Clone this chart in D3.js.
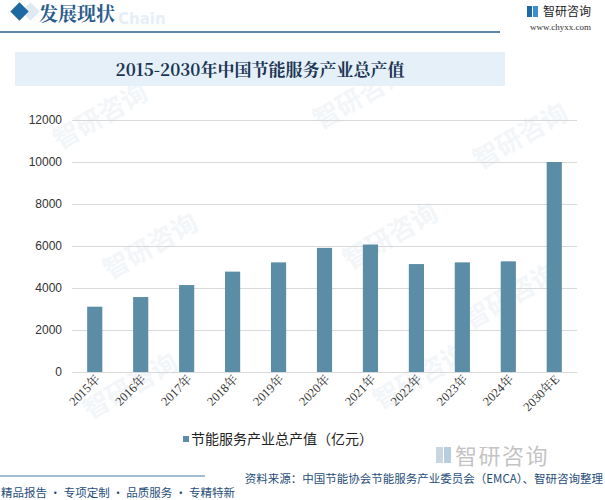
<!DOCTYPE html>
<html>
<head>
<meta charset="utf-8">
<script src="https://cdn.jsdelivr.net/npm/d3@7"></script>
<style>
body{margin:0;background:#fff;}
svg{display:block;font-family:"Noto Sans CJK SC","Noto Sans",sans-serif;}
</style>
</head>
<body>
<div id="chart"></div>
<script>
var years = ["2015年","2016年","2017年","2018年","2019年","2020年","2021年","2022年","2023年","2024年","2030年E"]
var values = [3110, 3570, 4140, 4780, 5220, 5910, 6070, 5140, 5220, 5270, 10000]
var yTicks = [0, 2000, 4000, 6000, 8000, 10000, 12000]

var W = 605, H = 500
var barColor = "#5b8ea6"
var navy = "#1f4e79"

var svg = d3.select("#chart").append("svg").attr("width", W).attr("height", H)

// faint watermarks
var wm = [[60,150],[320,130],[110,280],[350,270],[90,420],[470,330],[480,170],[380,410]]
wm.forEach(function(p){
  svg.append("text").text("智研咨询").attr("x",p[0]).attr("y",p[1])
    .attr("transform","rotate(-30,"+p[0]+","+p[1]+")")
    .attr("font-size",26).attr("fill","#f3f6f9").attr("font-weight","bold")
})

// header
svg.append("rect").attr("x",24).attr("y",5).attr("width",13).attr("height",13)
  .attr("transform","rotate(45,30.5,11.5)").attr("fill","#dfe9f2")
svg.append("rect").attr("x",13).attr("y",5).attr("width",13).attr("height",13)
  .attr("transform","rotate(45,19.5,11.5)").attr("fill","#1f69a3")
svg.append("text").text("Chain").attr("x",118).attr("y",24).attr("font-size",15)
  .attr("font-weight","bold").attr("fill","#e6eef6").attr("font-family","DejaVu Sans")
svg.append("text").text("发展现状").attr("x",39).attr("y",21).attr("font-size",19)
  .attr("fill","#2a5d8c").attr("font-family","Noto Serif CJK SC, Noto Sans CJK SC, serif").attr("font-weight","bold")
svg.append("line").attr("x1",0).attr("x2",500).attr("y1",32).attr("y2",32)
  .attr("stroke","#2b5f84").attr("stroke-width",1.5)
// logo top right
svg.append("rect").attr("x",527).attr("y",6).attr("width",5).attr("height",11).attr("fill","#1f69a3")
svg.append("rect").attr("x",533).attr("y",6).attr("width",5).attr("height",11).attr("fill","#3b8fd1")
svg.append("text").text("智研咨询").attr("x",543).attr("y",16).attr("font-size",12).attr("fill","#222")
svg.append("text").text("www.chyxx.com").attr("x",530).attr("y",30).attr("font-size",9)
  .attr("fill","#333").attr("font-family","Liberation Serif, serif")

// title band
svg.append("rect").attr("x",15).attr("y",52).attr("width",490).attr("height",34).attr("fill","#e5f0f8")
svg.append("text").text("2015-2030年中国节能服务产业总产值").attr("x",260).attr("y",76)
  .attr("text-anchor","middle").attr("font-size",17).attr("font-weight","bold")
  .attr("fill","#1c3553").attr("font-family","Noto Serif CJK SC, Liberation Serif, serif")

// scales
var x = d3.scaleBand().domain(years).range([72, 577]).paddingInner(0.67).paddingOuter(0.33)
var y = d3.scaleLinear().domain([0, 12000]).range([372, 120])

// grid
svg.append("g").attr("transform","translate(72,0)")
  .call(d3.axisLeft(y).tickValues(yTicks).tickSize(-505).tickFormat(""))
  .call(function(g){ g.select(".domain").remove(); g.selectAll("line").attr("stroke","#d9d9d9") })

svg.append("g").selectAll("text").data(yTicks).enter().append("text")
  .attr("x",62).attr("y",function(d){return y(d)+4}).attr("text-anchor","end")
  .attr("font-size",12).attr("fill","#333").attr("font-family","Liberation Sans, Arial, sans-serif")
  .text(function(d){return d})

// bars
svg.append("g").selectAll("rect").data(values).enter().append("rect")
  .attr("x",function(d,i){return x(years[i])})
  .attr("y",function(d){return y(d)})
  .attr("width",x.bandwidth())
  .attr("height",function(d){return y(0)-y(d)})
  .attr("fill",barColor)

// x labels
svg.append("g").selectAll("text").data(years).enter().append("text")
  .attr("transform",function(d){
    var cx = x(d)+x.bandwidth()/2+6
    return "translate("+cx+",380) rotate(-45)"
  })
  .attr("text-anchor","end").attr("font-size",12.5).attr("fill","#333")
  .attr("font-family","Liberation Serif, Noto Serif CJK SC, serif")
  .text(function(d){return d})

// legend
svg.append("rect").attr("x",183).attr("y",436).attr("width",6).attr("height",6).attr("fill",barColor)
svg.append("text").text("节能服务产业总产值（亿元）").attr("x",191).attr("y",444)
  .attr("font-size",14).attr("fill","#222")

// footer logo
svg.append("rect").attr("x",436).attr("y",447).attr("width",7).attr("height",16).attr("fill","#c9d6e2")
svg.append("rect").attr("x",444).attr("y",447).attr("width",7).attr("height",16).attr("fill","#b7cde0")
svg.append("text").text("智研咨询").attr("x",455).attr("y",464).attr("font-size",22)
  .attr("fill","#c4c4c4").attr("letter-spacing",1.5)

svg.append("line").attr("x1",0).attr("x2",205).attr("y1",476).attr("y2",476)
  .attr("stroke","#4a7ba0").attr("stroke-width",1.2)
svg.append("text").text("资料来源：中国节能协会节能服务产业委员会（EMCA）、智研咨询整理")
  .attr("x",603).attr("y",483).attr("text-anchor","end").attr("font-size",11.5).attr("fill",navy)
svg.append("text").text("精品报告 · 专项定制 · 品质服务 · 专精特新")
  .attr("x",1).attr("y",497).attr("font-size",11.5).attr("fill",navy)
</script>
</body>
</html>
